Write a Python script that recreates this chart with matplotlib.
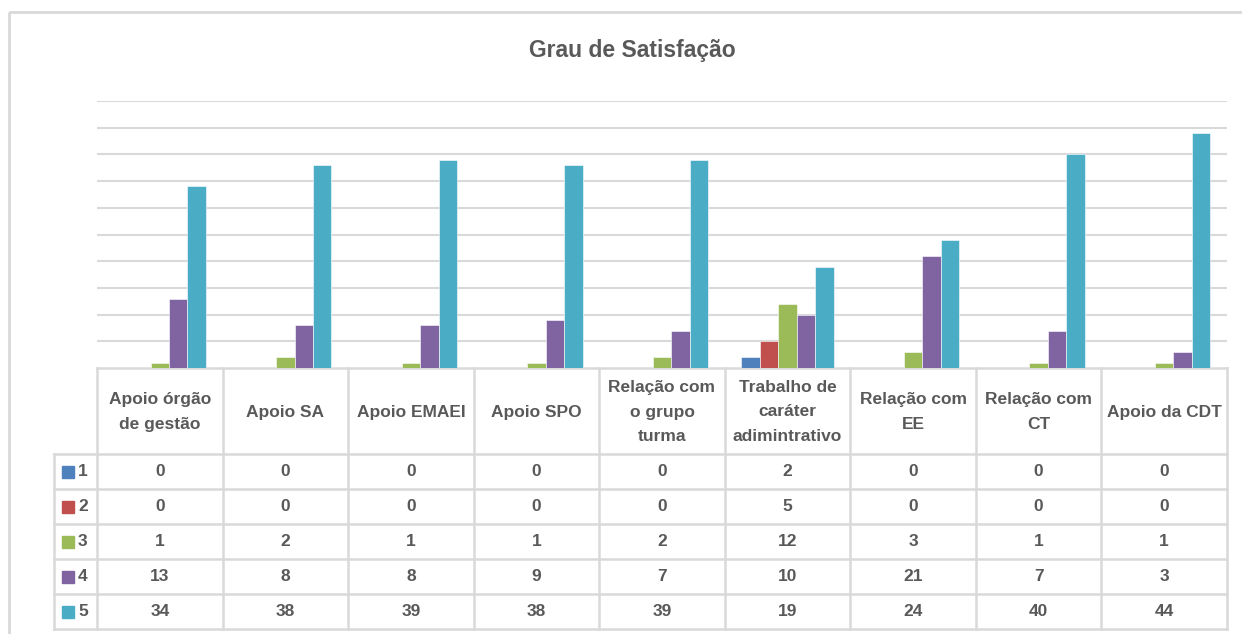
import matplotlib
matplotlib.use("Agg")
import matplotlib.pyplot as plt
from matplotlib.patches import Rectangle
from matplotlib.lines import Line2D

# Data
categories = ["Apoio órgão\nde gestão", "Apoio SA", "Apoio EMAEI", "Apoio SPO",
              "Relação com\no grupo\nturma", "Trabalho de\ncaráter\nadimintrativo",
              "Relação com\nEE", "Relação com\nCT", "Apoio da CDT"]
series_names = ["1", "2", "3", "4", "5"]
s1 = [0, 0, 0, 0, 0, 2, 0, 0, 0]
s2 = [0, 0, 0, 0, 0, 5, 0, 0, 0]
s3 = [1, 2, 1, 1, 2, 12, 3, 1, 1]
s4 = [13, 8, 8, 9, 7, 10, 21, 7, 3]
s5 = [34, 38, 39, 38, 39, 19, 24, 40, 44]
series = [s1, s2, s3, s4, s5]
colors = ["#4F81BD", "#C0504D", "#9BBB59", "#8064A2", "#4BACC6"]

W, H = 1242, 634
text_col = "#595959"
grid_col = "#D9D9D9"
font = "Liberation Sans"
fs = 12.5

fig = plt.figure(figsize=(W / 100, H / 100), dpi=100)

# Layout in pixels
x0, x1 = 97, 1227
y_zero, y_top = 368, 101
row_lab_x = 54
rows_y = [368, 454, 489, 524, 559, 594, 629]

# Background overlay (pixel coordinates)
bg = fig.add_axes([0, 0, 1, 1])
bg.set_xlim(0, W)
bg.set_ylim(H, 0)
bg.axis("off")

# outer chart frame
bg.add_patch(Rectangle((9, 12), W + 20, H + 20, fill=False,
                       edgecolor="#D9D9D9", linewidth=2))

bg.text(632, 51, "Grau de Satisfação", ha="center", va="center",
        fontsize=16.5, fontweight="bold", color=text_col, family=font)

# Bars
ax = fig.add_axes([x0 / W, 1 - y_zero / H, (x1 - x0) / W, (y_zero - y_top) / H])
ax.set_xlim(-0.5, len(categories) - 0.5)
ax.set_ylim(0, 50)
ax.set_yticks(range(5, 51, 5))
ax.yaxis.grid(True, color=grid_col, linewidth=1.5)
ax.set_axisbelow(True)
ax.tick_params(left=False, bottom=False, labelleft=False, labelbottom=False)
for sp in ax.spines.values():
    sp.set_visible(False)
ax.patch.set_alpha(0)

bw = 0.147
for i, (vals, c) in enumerate(zip(series, colors)):
    xs = [k + (i - 2) * bw for k in range(len(categories))]
    ax.bar(xs, vals, width=bw, color=c, edgecolor="white", linewidth=0.4)

# Data table
cw = (x1 - x0) / len(categories)
lc = "#D9D9D9"
lw = 1.8
# horizontal lines
bg.add_line(Line2D([x0, x1], [rows_y[0]] * 2, color=lc, lw=lw))
for y in rows_y[1:]:
    bg.add_line(Line2D([row_lab_x, x1], [y, y], color=lc, lw=lw))
# vertical lines
for k in range(len(categories) + 1):
    xx = x0 + k * cw
    bg.add_line(Line2D([xx, xx], [rows_y[0], rows_y[-1]], color=lc, lw=lw))
bg.add_line(Line2D([row_lab_x, row_lab_x], [rows_y[1], rows_y[-1]], color=lc, lw=lw))

for k, cat in enumerate(categories):
    bg.text(x0 + (k + 0.5) * cw, (rows_y[0] + rows_y[1]) / 2 + 1, cat,
            ha="center", va="center", fontsize=fs, fontweight="bold",
            color=text_col, family=font, linespacing=1.8)

for i, (name, vals, c) in enumerate(zip(series_names, series, colors)):
    yc = (rows_y[i + 1] + rows_y[i + 2]) / 2
    bg.add_patch(Rectangle((62, yc - 6), 12, 12, color=c))
    bg.text(78, yc, name, ha="left", va="center", fontsize=fs,
            fontweight="bold", color=text_col, family=font)
    for k, v in enumerate(vals):
        bg.text(x0 + (k + 0.5) * cw, yc, str(v), ha="center", va="center",
                fontsize=fs, fontweight="bold", color=text_col, family=font)

fig.savefig("out.png", dpi=100)
